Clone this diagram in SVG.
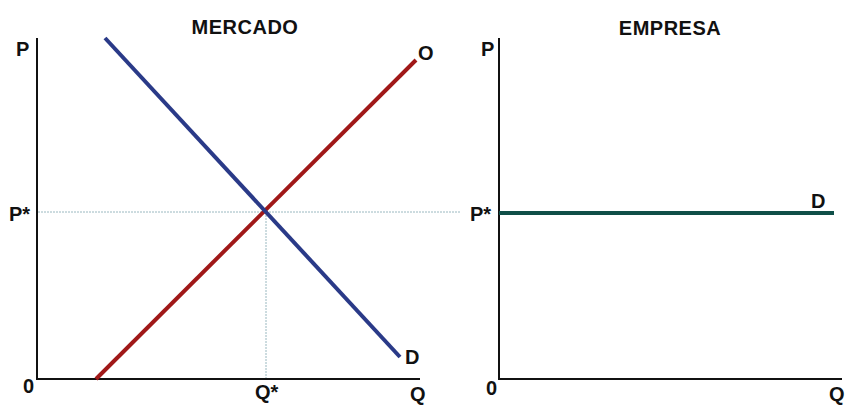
<svg xmlns="http://www.w3.org/2000/svg" width="847" height="405" viewBox="0 0 847 405">
<style>
text{font-family:"Liberation Sans",Arial,sans-serif;font-weight:bold;font-size:20px;fill:#111}
.ax{stroke:#111;stroke-width:2;fill:none}
.guide{stroke:#9ab8c0;stroke-width:1;stroke-dasharray:2 1;fill:none}
</style>
<rect width="847" height="405" fill="#fff"/>
<g id="mercado">
<text x="245" y="34" text-anchor="middle" letter-spacing="0.5">MERCADO</text>
<line class="guide" x1="38" y1="212" x2="460" y2="212"/>
<line class="guide" x1="266" y1="212" x2="266" y2="379"/>
<path class="ax" d="M37,38 V379 H420"/>
<line x1="96" y1="379" x2="416" y2="60" stroke="#a01818" stroke-width="4"/>
<line x1="105" y1="38" x2="400" y2="357" stroke="#2a3a88" stroke-width="4"/>
<text x="16" y="56">P</text>
<text x="9" y="221">P*</text>
<text x="23" y="393">0</text>
<text x="418" y="60">O</text>
<text x="405" y="364">D</text>
<text x="255" y="399">Q*</text>
<text x="410" y="401">Q</text>
</g>
<g id="empresa">
<text x="670" y="35" text-anchor="middle" letter-spacing="0.5">EMPRESA</text>
<path class="ax" d="M499,38 V379 H842"/>
<line x1="499" y1="213" x2="834" y2="213" stroke="#0f4f48" stroke-width="4"/>
<text x="481" y="56">P</text>
<text x="470" y="221">P*</text>
<text x="486" y="395">0</text>
<text x="811" y="208">D</text>
<text x="829" y="401">Q</text>
</g>
</svg>
